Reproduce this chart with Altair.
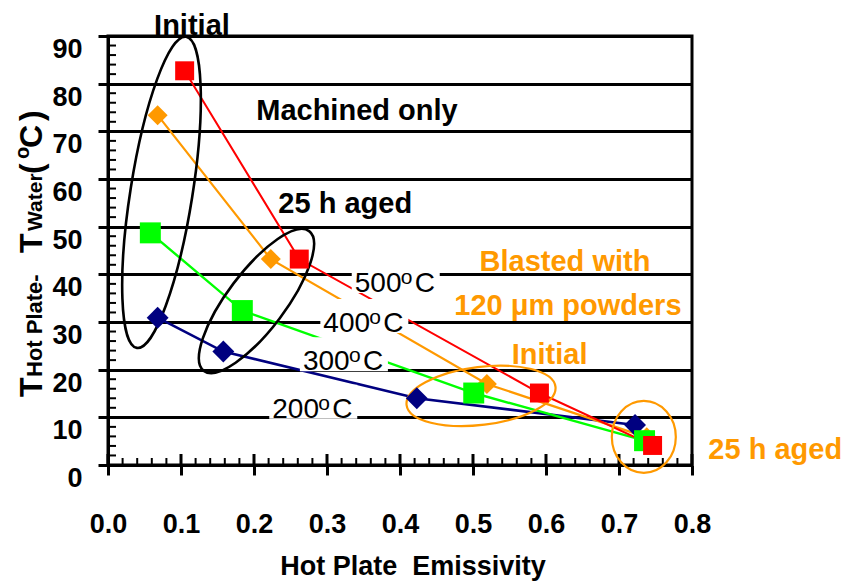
import altair as alt
import pandas as pd

FONT = "Liberation Sans"

# ---------------- data ----------------
series_names = ["500 °C", "400 °C", "300 °C", "200 °C"]
x500 = [0.105, 0.262, 0.591, 0.746]
y500 = [82.7, 43.2, 15.1, 4.1]
x400 = [0.068, 0.223, 0.519, 0.738]
y400 = [73.4, 43.2, 17.0, 5.8]
x300 = [0.058, 0.184, 0.501, 0.735]
y300 = [48.7, 32.4, 15.1, 5.1]
x200 = [0.068, 0.158, 0.423, 0.722]
y200 = [30.9, 23.8, 14.0, 8.4]

x_ticks = [0.0, 0.1, 0.2, 0.3, 0.4, 0.5, 0.6, 0.7, 0.8]
y_ticks = [0, 10, 20, 30, 40, 50, 60, 70, 80, 90]
x_minor = [0.02, 0.04, 0.06, 0.08, 0.12, 0.14, 0.16, 0.18,
           0.22, 0.24, 0.26, 0.28, 0.32, 0.34, 0.36, 0.38,
           0.42, 0.44, 0.46, 0.48, 0.52, 0.54, 0.56, 0.58,
           0.62, 0.64, 0.66, 0.68, 0.72, 0.74, 0.76, 0.78]
y_minor = [2, 4, 6, 8, 12, 14, 16, 18, 22, 24, 26, 28, 32, 34, 36, 38,
           42, 44, 46, 48, 52, 54, 56, 58, 62, 64, 66, 68, 72, 74, 76, 78,
           82, 84, 86, 88]

# temperature labels (start x, baseline y)
deg_text = ["500", "400", "300", "200"]
deg_x = [0.338, 0.295, 0.267, 0.225]
deg_y = [36.3, 27.9, 19.9, 9.9]

# annotations
ann_text = ["Initial", "Machined only", "25 h aged", "Blasted with",
            "120 \u03bcm powders", "Initial", "25 h aged"]
ann_group = ["machined", "machined", "machined", "blasted", "blasted", "blasted", "blasted"]
ann_x = [0.115, 0.341, 0.325, 0.626, 0.630, 0.605, 0.914]
ann_y = [90.2, 72.4, 52.9, 40.7, 31.5, 21.2, 1.3]

# group ellipses (centres)
ell_x = [0.0733, 0.2034, 0.511, 0.734]
ell_y = [57.2, 34.4, 14.5, 5.9]

# ---------------- tables ----------------
rows = []
for name, xs, ys in [("200 °C", x200, y200), ("400 °C", x400, y400),
                     ("300 °C", x300, y300), ("500 °C", x500, y500)]:
    for i, (a, b) in enumerate(zip(xs, ys)):
        rows.append({"series": name, "idx": i, "x": a, "y": b})
df = pd.DataFrame(rows)

W, H = 584, 429
PX = 0.8 / W   # data units per pixel (x)
PY = 90 / H    # data units per pixel (y)

xsc = alt.Scale(domain=[0, 0.8], nice=False, zero=False)
ysc = alt.Scale(domain=[0, 90], nice=False, zero=False)

x_axis = alt.Axis(values=x_ticks, format=".1f", title=None, grid=False,
                  labelFont=FONT, labelFontSize=27, labelFontWeight="bold", labelColor="black",
                  labelBaseline="alphabetic", labelPadding=57, labelFlush=False,
                  labelOverlap=False, labelBound=False,
                  tickColor="black", tickWidth=3, tickSize=10,
                  domainColor="black", domainWidth=3)
y_axis = alt.Axis(values=y_ticks, title=None, grid=True, gridColor="black", gridWidth=3,
                  gridOpacity=1,
                  labelFont=FONT, labelFontSize=27, labelFontWeight="bold", labelColor="black",
                  labelBaseline="alphabetic", labelOffset=21.5, labelPadding=16,
                  labelOverlap=False, labelBound=False, labelFlush=False,
                  tickColor="black", tickWidth=3, tickSize=10,
                  domainColor="black", domainWidth=3)


def X(f):
    return alt.X(f, scale=xsc, axis=x_axis)


def Y(f):
    return alt.Y(f, scale=ysc, axis=y_axis)


colors = ["#FF0000", "#FF9900", "#00FF00", "#000080"]
col = alt.Color("series:N", scale=alt.Scale(domain=series_names, range=colors), legend=None)

lines = alt.Chart(df).mark_line().encode(
    x=X("x:Q"), y=Y("y:Q"),
    color=col,
    strokeWidth=alt.StrokeWidth("series:N", scale=alt.Scale(domain=series_names,
                                range=[2, 2.6, 2, 3]), legend=None),
    order="idx:Q",
)

points = alt.Chart(df).mark_point(filled=True, opacity=1, strokeWidth=0).encode(
    x=X("x:Q"), y=Y("y:Q"),
    color=col,
    shape=alt.Shape("series:N", scale=alt.Scale(domain=series_names,
                    range=["square", "diamond", "square", "diamond"]), legend=None),
    size=alt.Size("series:N", scale=alt.Scale(domain=series_names,
                  range=[360, 480, 400, 480]), legend=None),
)

# minor ticks and inner parts of major x ticks
xminor = alt.Chart(pd.DataFrame({"v": x_minor})).mark_rule(color="black", strokeWidth=2).encode(
    x=X("v:Q"), y=alt.value(H - 7), y2=alt.value(H))
xmajor_in = alt.Chart(pd.DataFrame({"v": x_ticks})).mark_rule(color="black", strokeWidth=3).encode(
    x=X("v:Q"), y=alt.value(H - 11), y2=alt.value(H))
yminor = alt.Chart(pd.DataFrame({"v": y_minor})).mark_rule(color="black", strokeWidth=2).encode(
    y=Y("v:Q"), x=alt.value(0), x2=alt.value(8))

# white boxes behind temperature labels
deg_df = pd.DataFrame({"t": deg_text, "x": deg_x, "y": deg_y})
boxes = alt.Chart(deg_df).transform_calculate(
    bx=f"datum.x - {3 * PX}", bx2=f"datum.x + {85 * PX}",
    by=f"datum.y - {1 * PY}", by2=f"datum.y + {33 * PY}",
).mark_rect(color="white", opacity=1).encode(
    x=X("bx:Q"), x2="bx2:Q", y=Y("by:Q"), y2="by2:Q")

deg_num = alt.Chart(deg_df).mark_text(align="left", baseline="alphabetic", font=FONT,
                                      fontSize=28, color="black").encode(
    x=X("x:Q"), y=Y("y:Q"), text="t:N")
deg_o = alt.Chart(deg_df).mark_text(align="left", baseline="alphabetic", font=FONT,
                                    fontSize=21, color="black", dx=46, dy=-8, text="o").encode(
    x=X("x:Q"), y=Y("y:Q"))
deg_c = alt.Chart(deg_df).mark_text(align="left", baseline="alphabetic", font=FONT,
                                    fontSize=28, color="black", dx=60, text="C").encode(
    x=X("x:Q"), y=Y("y:Q"))

ann_df = pd.DataFrame({"t": ann_text, "g": ann_group, "x": ann_x, "y": ann_y})
ann_black = alt.Chart(ann_df).transform_filter("datum.g == 'machined'").mark_text(
    align="center", baseline="alphabetic", font=FONT, fontSize=29, fontWeight="bold",
    color="black").encode(x=X("x:Q"), y=Y("y:Q"), text="t:N")
ann_orange = alt.Chart(ann_df).transform_filter("datum.g == 'blasted'").mark_text(
    align="center", baseline="alphabetic", font=FONT, fontSize=29, fontWeight="bold",
    color="#FF9900").encode(x=X("x:Q"), y=Y("y:Q"), text="t:N")

# ellipses
ell_df = pd.DataFrame({"x": ell_x, "y": ell_y, "k": [0, 1, 2, 3]})
ell_specs = [
    ("M 0 -1 A 0.197 1 0 1 1 0 1 A 0.197 1 0 1 1 0 -1 Z", 315 ** 2, 9, "black", 2.6),
    ("M 0 -1 A 0.331 1 0 1 1 0 1 A 0.331 1 0 1 1 0 -1 Z", 175 ** 2, 37, "black", 2.6),
    ("M -1 0 A 1 0.387 0 1 1 1 0 A 1 0.387 0 1 1 -1 0 Z", 150 ** 2, 353, "#FF9900", 2.2),
    ("M 0 -1 A 0.889 1 0 1 1 0 1 A 0.889 1 0 1 1 0 -1 Z", 72 ** 2, 0, "#FF9900", 2.2),
]
ells = []
for k, (path, size, ang, c, sw) in enumerate(ell_specs):
    ells.append(alt.Chart(ell_df).transform_filter(f"datum.k == {k}").mark_point(
        shape=path, size=size, angle=ang, filled=False, color=c, strokeWidth=sw, opacity=1
    ).encode(x=X("x:Q"), y=Y("y:Q")))

# axis titles
one = pd.DataFrame({"a": [0]})


def ytxt(s, ypx, size, xpx=42):
    return alt.Chart(one).mark_text(text=s, angle=270, align="left", baseline="alphabetic",
                                    font=FONT, fontSize=size, fontWeight="bold", color="black").encode(
        x=alt.value(xpx - 108), y=alt.value(ypx - 36))


ytitle = [
    ytxt("T", 397, 32),
    ytxt("Hot Plate-", 377, 22),
    ytxt("T", 253, 32),
    ytxt("Water", 231, 21),
    ytxt("(", 174, 32),
    ytxt("o", 159, 20, 29),
    ytxt("C", 148, 32),
    ytxt(")", 121, 32),
]

xtitle = alt.Chart(one).mark_text(text="Hot Plate\u00a0 Emissivity", align="center",
                                  baseline="alphabetic", font=FONT, fontSize=27,
                                  fontWeight="bold", color="black").encode(
    x=alt.value(413 - 108), y=alt.value(575 - 36))

chart = alt.layer(
    lines, xminor, xmajor_in, yminor, boxes, deg_num, deg_o, deg_c, ann_black, ann_orange,
    *ells, points, *ytitle, xtitle
).properties(
    width=W, height=H,
    autosize=alt.AutoSizeParams(type="none"),
    padding={"left": 108, "top": 36, "right": 156, "bottom": 119},
).configure_view(stroke="black", strokeWidth=3)

chart.save("out.html", embed_options={"renderer": "svg", "actions": False})
